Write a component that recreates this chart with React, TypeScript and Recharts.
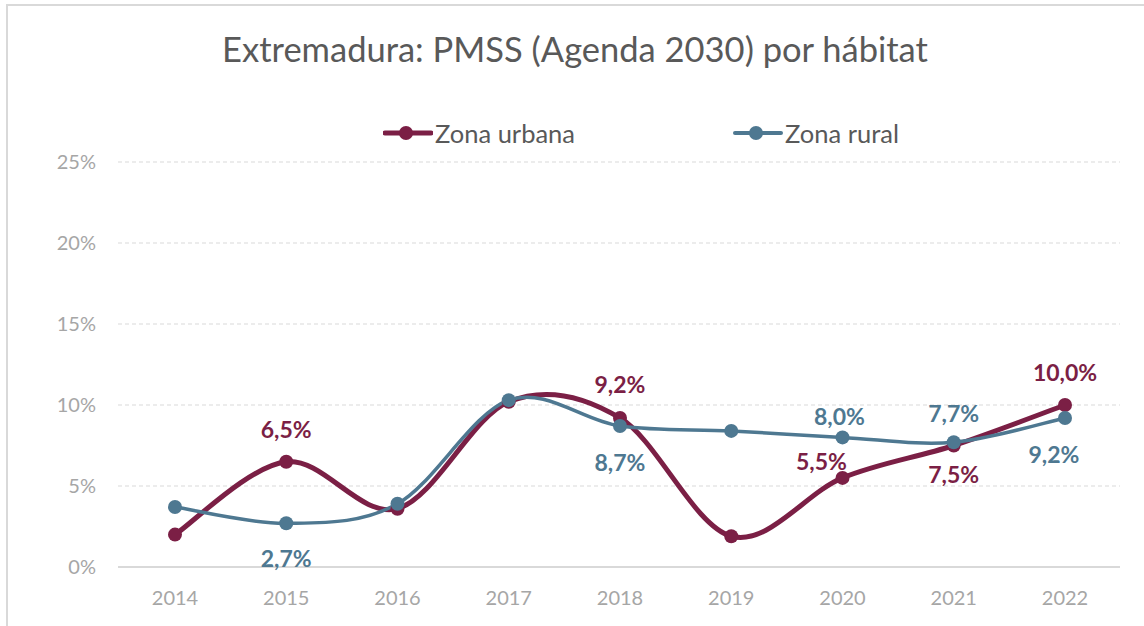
import { LineChart, Line, XAxis, YAxis, CartesianGrid, LabelList } from 'recharts'

const years = ['2014', '2015', '2016', '2017', '2018', '2019', '2020', '2021', '2022']
const urbana = [2.0, 6.5, 3.6, 10.2, 9.2, 1.9, 5.5, 7.5, 10.0]
const rural = [3.7, 2.7, 3.9, 10.3, 8.7, 8.4, 8.0, 7.7, 9.2]
const yTicks = [0, 5, 10, 15, 20, 25]

// which points carry a value label, and where it sits relative to the dot
const urbanaLabelOffset: ([number, number] | null)[] = [null, [0, -33], null, null, [0, -34], null, [-21, -17], [0, 28], [0, -33]]
const ruralLabelOffset: ([number, number] | null)[] = [null, [0, 35], null, null, [0, 36], null, [-3, -21], [0, -29], [-11, 36]]

const URBANA = '#7B1F45'
const RURAL = '#4E7891'
const FONT = 'Lato, "Open Sans", sans-serif'

const data = years.map((y, i) => ({ year: y, urbana: urbana[i], rural: rural[i] }))

const fmt = (v: number) => v.toFixed(1).replace('.', ',') + '%'

// Excel-style smoothed line: Catmull-Rom bezier through the points
function excelCurve(context: any) {
  let pts: [number, number][] = []
  return {
    areaStart() {},
    areaEnd() {},
    lineStart() {
      pts = []
    },
    point(x: number, y: number) {
      pts.push([+x, +y])
    },
    lineEnd() {
      if (!pts.length) return
      context.moveTo(pts[0][0], pts[0][1])
      for (let i = 0; i < pts.length - 1; i++) {
        const p0 = pts[Math.max(i - 1, 0)]
        const p1 = pts[i]
        const p2 = pts[i + 1]
        const p3 = pts[Math.min(i + 2, pts.length - 1)]
        context.bezierCurveTo(
          p1[0] + (p2[0] - p0[0]) / 6,
          p1[1] + (p2[1] - p0[1]) / 6,
          p2[0] - (p3[0] - p1[0]) / 6,
          p2[1] - (p3[1] - p1[1]) / 6,
          p2[0],
          p2[1],
        )
      }
    },
  }
}

function makeLabel(offsets: ([number, number] | null)[], color: string) {
  return (props: any) => {
    const { x, y, index, value } = props
    const off = offsets[index]
    if (!off) return null
    return (
      <text
        x={x + off[0]}
        y={y + off[1]}
        textAnchor="middle"
        dominantBaseline="central"
        fill={color}
        fontFamily={FONT}
        fontWeight={700}
        fontSize={23}
      >
        {fmt(value)}
      </text>
    )
  }
}

function ChartLegend() {
  const items = [
    { name: 'Zona urbana', color: URBANA, left: 383, w: 5 },
    { name: 'Zona rural', color: RURAL, left: 733, w: 4 },
  ]
  return (
    <>
      {items.map((it) => (
        <div
          key={it.name}
          style={{ position: 'absolute', left: it.left, top: 118, display: 'flex', alignItems: 'center', height: 30 }}
        >
          <svg width={50} height={20}>
            <line x1={2} y1={10} x2={48} y2={10} stroke={it.color} strokeWidth={it.w} strokeLinecap="round" />
            <circle cx={23} cy={10} r={7} fill={it.color} />
          </svg>
          <span style={{ fontFamily: FONT, fontSize: 25.5, color: '#595959', marginLeft: 2 }}>{it.name}</span>
        </div>
      ))}
    </>
  )
}

export default function App() {
  return (
    <div style={{ position: 'fixed', left: 0, top: 0, width: 1144, height: 626, overflow: 'hidden', background: '#fff' }}>
      <div
        style={{
          position: 'absolute',
          left: 6,
          top: 4,
          width: 1160,
          height: 660,
          border: '2px solid #d9d9d9',
        }}
      />
      <div
        style={{
          position: 'absolute',
          left: 0,
          top: 28,
          width: 1150,
          textAlign: 'center',
          fontFamily: FONT,
          fontSize: 34.5,
          color: '#595959',
        }}
      >
        Extremadura: PMSS (Agenda 2030) por hábitat
      </div>
      <ChartLegend />
      <div style={{ position: 'absolute', left: 0, top: 0 }}>
        <LineChart width={1144} height={626} data={data} margin={{ top: 162, right: 24, bottom: 29, left: 0 }}>
          <CartesianGrid vertical={false} stroke="#d9d9d9" strokeDasharray="4 3" />
          <XAxis
            dataKey="year"
            padding={{ left: 57, right: 55 }}
            axisLine={{ stroke: '#d9d9d9', strokeWidth: 2 }}
            tickLine={false}
            tickSize={0}
            tickMargin={24}
            height={30}
            tick={{ fill: '#a6a6a6', fontSize: 20, fontFamily: FONT }}
          />
          <YAxis
            domain={[0, 25]}
            ticks={yTicks}
            tickFormatter={(v: number) => `${v}%`}
            axisLine={false}
            tickLine={false}
            tickSize={0}
            tickMargin={22}
            width={118}
            tick={{ fill: '#a6a6a6', fontSize: 20, fontFamily: FONT }}
          />
          <Line
            dataKey="urbana"
            name="Zona urbana"
            type={excelCurve as any}
            stroke={URBANA}
            strokeWidth={5}
            dot={{ r: 7, fill: URBANA, stroke: URBANA, strokeWidth: 0 }}
            isAnimationActive={false}
          >
            <LabelList dataKey="urbana" content={makeLabel(urbanaLabelOffset, URBANA)} />
          </Line>
          <Line
            dataKey="rural"
            name="Zona rural"
            type={excelCurve as any}
            stroke={RURAL}
            strokeWidth={3.5}
            dot={{ r: 7, fill: RURAL, stroke: RURAL, strokeWidth: 0 }}
            isAnimationActive={false}
          >
            <LabelList dataKey="rural" content={makeLabel(ruralLabelOffset, RURAL)} />
          </Line>
        </LineChart>
      </div>
    </div>
  )
}
